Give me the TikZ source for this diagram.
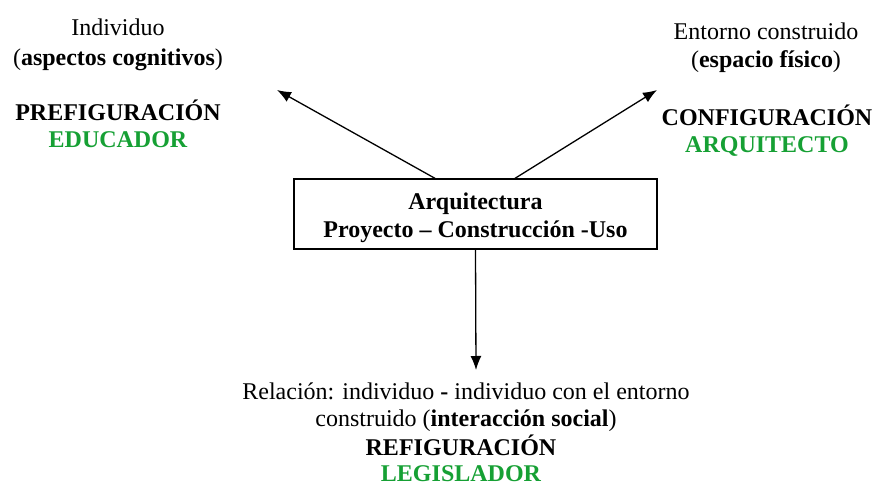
\documentclass[tikz,border=0pt]{standalone}
\usepackage{fontspec}
\setmainfont{Liberation Serif}
\usepackage{tikz}
\usetikzlibrary{arrows.meta, positioning}
\definecolor{rolegreen}{RGB}{22,160,52}

\begin{document}
\begin{tikzpicture}[x=1pt, y=-1pt, >={Latex[length=14pt,width=11pt]}, line width=1.3pt,
        txt/.style={align=center, inner sep=0pt, font=\fontsize{24}{28}\selectfont},
        role/.style={align=center, inner sep=0pt, font=\fontsize{24}{27}\selectfont\bfseries}]
    \useasboundingbox (0,0) rectangle (876,489);

    % centre box
    \node[draw, minimum width=363pt, minimum height=70pt] (arq) at (475.5,214) {};
    \node[txt, font=\fontsize{24}{28}\selectfont\bfseries] (arqtxt) at ([yshift=-4pt]arq.center)
        {Arquitectura\\Proyecto -- Construcción -Uso};

    % left
    \node[txt, font=\fontsize{24}{30}\selectfont] (indiv) at (118,45) {Individuo\\(\textbf{aspectos cognitivos})};
    \node[role] (pref) at (118,123.5) {PREFIGURACIÓN\\\textcolor{rolegreen}{EDUCADOR}};

    % right
    \node[txt] (ent) at (766,48) {Entorno construido\\(\textbf{espacio físico})};
    \node[role] (conf) at (767,130.5) {CONFIGURACIÓN\\\textcolor{rolegreen}{ARQUITECTO}};

    % bottom
    \node[txt, font=\fontsize{24}{27}\selectfont] (rel) at (466,407.5)
        {Relación: individuo \textbf{-} individuo con el entorno\\construido (\textbf{interacción social})};
    \node[role, font=\fontsize{24}{26}\selectfont\bfseries] (refig) at (461,458.5) {REFIGURACIÓN\\\textcolor{rolegreen}{LEGISLADOR}};

    \coordinate (pre) at (277,90);
    \coordinate (con) at (657,90);
    \coordinate (ref) at (476,370);

    \draw[->] ([xshift=-40.5pt]arq.north) -- (pre);
    \draw[->] ([xshift=39.5pt]arq.north) -- (con);
    \draw[->] (arq.south) -- (ref);
\end{tikzpicture}
\end{document}
